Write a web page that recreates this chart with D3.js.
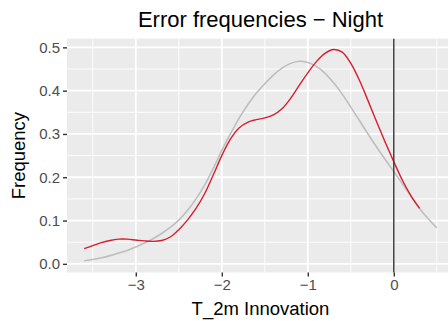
<!DOCTYPE html>
<html>
<head>
<meta charset="utf-8">
<script src="https://cdn.jsdelivr.net/npm/d3@7"></script>
<style>
  html, body { margin: 0; padding: 0; background: #ffffff; }
  svg { display: block; }
  text { font-family: "Liberation Sans", Arial, sans-serif; }
</style>
</head>
<body>
<svg id="chart" width="448" height="321"></svg>
<script>
// Evaluation grid of the T_2m innovation (K)
const innovation = [
  -3.6, -3.5, -3.4, -3.3, -3.2, -3.1, -3.0, -2.9, -2.8, -2.7,
  -2.6, -2.5, -2.4, -2.3, -2.2, -2.1, -2.0, -1.9, -1.8, -1.7,
  -1.6, -1.5, -1.4, -1.3, -1.2, -1.1, -1.0, -0.9, -0.8, -0.7,
  -0.6, -0.5, -0.4, -0.3, -0.2, -0.1, 0.0, 0.1, 0.2, 0.3,
  0.4, 0.5
];

// Observed error density (red)
const observedDensity = [
  0.035, 0.042, 0.049, 0.054, 0.057, 0.057, 0.055, 0.053, 0.052, 0.054,
  0.062, 0.079, 0.101, 0.128, 0.162, 0.205, 0.250, 0.288, 0.314, 0.327,
  0.333, 0.337, 0.344, 0.358, 0.382, 0.412, 0.441, 0.467, 0.486, 0.495,
  0.489, 0.463, 0.424, 0.377, 0.328, 0.281, 0.236, 0.193, 0.157, 0.128
];

// Reference density (grey)
const referenceDensity = [
  0.007, 0.010, 0.014, 0.019, 0.025, 0.031, 0.039, 0.048, 0.058, 0.070,
  0.084, 0.101, 0.123, 0.150, 0.182, 0.220, 0.262, 0.300, 0.336, 0.367,
  0.394, 0.416, 0.436, 0.452, 0.463, 0.468, 0.465, 0.456, 0.440, 0.418,
  0.392, 0.362, 0.331, 0.300, 0.270, 0.241, 0.213, 0.185, 0.156, 0.128,
  0.104, 0.083
];

const xTicks = [-3, -2, -1, 0];
const xMinor = [-3.5, -2.5, -1.5, -0.5, 0.5];
const yTicks = [0.0, 0.1, 0.2, 0.3, 0.4, 0.5];
const yMinor = [0.05, 0.15, 0.25, 0.35, 0.45];
const zeroLine = 0;

const svg = d3.select("#chart");
const panel = { left: 67, right: 454, top: 38.7, bottom: 272.5 };

const x = d3.scaleLinear().domain([-3.8, 0.7]).range([panel.left, panel.right]);
const y = d3.scaleLinear().domain([-0.02, 0.52]).range([panel.bottom, panel.top]);

// Panel background
svg.append("rect")
  .attr("x", panel.left).attr("y", panel.top)
  .attr("width", panel.right - panel.left).attr("height", panel.bottom - panel.top)
  .attr("fill", "#ebebeb");

const grid = svg.append("g");
// Minor gridlines
grid.selectAll("line.ymin").data(yMinor).join("line")
  .attr("x1", panel.left).attr("x2", panel.right)
  .attr("y1", d => y(d)).attr("y2", d => y(d))
  .attr("stroke", "#ffffff").attr("stroke-width", 0.9);
grid.selectAll("line.xmin").data(xMinor).join("line")
  .attr("y1", panel.top).attr("y2", panel.bottom)
  .attr("x1", d => x(d)).attr("x2", d => x(d))
  .attr("stroke", "#ffffff").attr("stroke-width", 0.9);
// Major gridlines
grid.selectAll("line.ymaj").data(yTicks).join("line")
  .attr("x1", panel.left).attr("x2", panel.right)
  .attr("y1", d => y(d)).attr("y2", d => y(d))
  .attr("stroke", "#ffffff").attr("stroke-width", 1.8);
grid.selectAll("line.xmaj").data(xTicks).join("line")
  .attr("y1", panel.top).attr("y2", panel.bottom)
  .attr("x1", d => x(d)).attr("x2", d => x(d))
  .attr("stroke", "#ffffff").attr("stroke-width", 1.8);

// Density curves
const line = d3.line().curve(d3.curveCatmullRom.alpha(0.5));
const refPts = referenceDensity.map((v, i) => [x(innovation[i]), y(v)]);
const obsPts = observedDensity.map((v, i) => [x(innovation[i]), y(v)]);

svg.append("path").attr("d", line(refPts))
  .attr("fill", "none").attr("stroke", "#bebebe").attr("stroke-width", 1.6);
svg.append("path").attr("d", line(obsPts))
  .attr("fill", "none").attr("stroke", "#d81d2c").attr("stroke-width", 1.4);

// Zero innovation marker
svg.append("line")
  .attr("x1", x(zeroLine)).attr("x2", x(zeroLine))
  .attr("y1", panel.top).attr("y2", panel.bottom)
  .attr("stroke", "#333333").attr("stroke-width", 1.4);

// Axes
const xAxis = d3.axisBottom(x).tickValues(xTicks).tickSize(4).tickPadding(3)
  .tickFormat(d => d === 0 ? "0" : d3.format("")(d).replace("-", "\u2212"));
const gx = svg.append("g").attr("transform", `translate(0,${panel.bottom})`).call(xAxis);
gx.select(".domain").remove();
gx.selectAll(".tick line").attr("stroke", "#333333").attr("stroke-width", 1.4);
gx.selectAll(".tick text").attr("fill", "#4d4d4d").style("font-size", "15px");

const yAxis = d3.axisLeft(y).tickValues(yTicks).tickSize(4).tickPadding(3)
  .tickFormat(d3.format(".1f"));
const gy = svg.append("g").attr("transform", `translate(${panel.left},0)`).call(yAxis);
gy.select(".domain").remove();
gy.selectAll(".tick line").attr("stroke", "#333333").attr("stroke-width", 1.4);
gy.selectAll(".tick text").attr("fill", "#4d4d4d").style("font-size", "15px");

// Titles
const cx = (panel.left + panel.right) / 2;
svg.append("text").attr("x", cx).attr("y", 27)
  .attr("text-anchor", "middle").style("font-size", "22px").attr("fill", "#000")
  .text("Error frequencies \u2212 Night");
svg.append("text").attr("x", cx).attr("y", 315)
  .attr("text-anchor", "middle").style("font-size", "18.5px").attr("fill", "#000")
  .text("T_2m Innovation");
svg.append("text")
  .attr("transform", `translate(25,${(panel.top + panel.bottom) / 2}) rotate(-90)`)
  .attr("text-anchor", "middle").style("font-size", "18.5px").attr("fill", "#000")
  .text("Frequency");
</script>
</body>
</html>
